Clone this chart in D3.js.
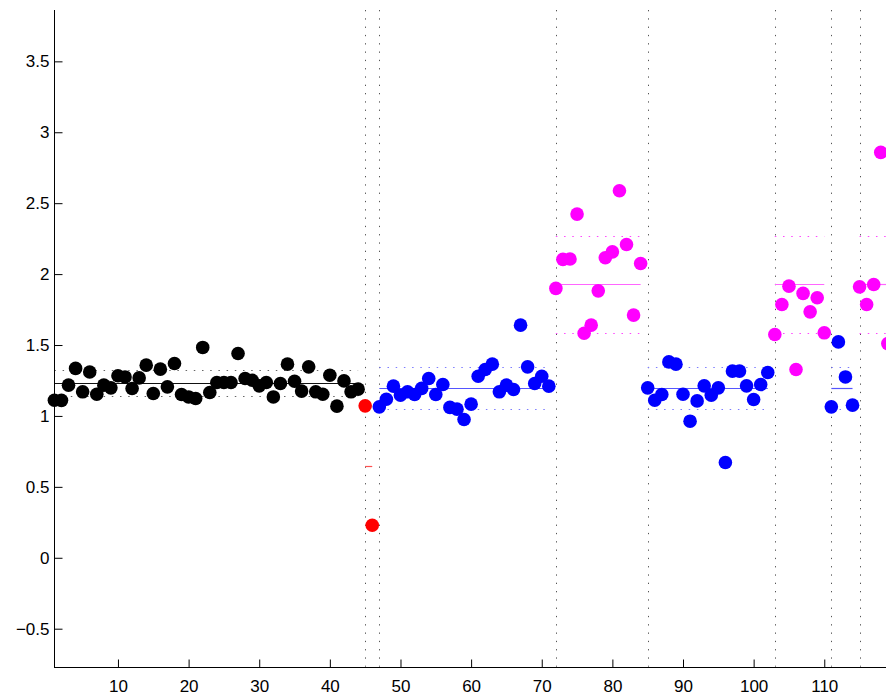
<!DOCTYPE html>
<html>
<head>
<meta charset="utf-8">
<script src="https://cdnjs.cloudflare.com/ajax/libs/d3/7.8.5/d3.min.js"></script>
<style>
  body { margin: 0; background: #fff; }
  svg { display: block; font-family: "Liberation Sans", Arial, sans-serif; }
</style>
</head>
<body>
<script>
// one array per run, read left to right
const blackVals = [1.111, 1.11, 1.217, 1.335, 1.17, 1.31, 1.153, 1.217, 1.198, 1.283,
  1.275, 1.193, 1.268, 1.358, 1.158, 1.33, 1.205, 1.37, 1.151, 1.134,
  1.123, 1.483, 1.165, 1.236, 1.236, 1.236, 1.44, 1.264, 1.252, 1.212,
  1.236, 1.134, 1.229, 1.365, 1.245, 1.175, 1.346, 1.17, 1.153, 1.287,
  1.069, 1.247, 1.17, 1.189]
const redVals = [1.071, 0.229]
const blueVals1 = [1.064, 1.118, 1.21, 1.146, 1.17, 1.151, 1.194, 1.264, 1.151, 1.222,
  1.06, 1.048, 0.975, 1.083, 1.28, 1.327, 1.365, 1.17, 1.217, 1.186,
  1.64, 1.346, 1.229, 1.28, 1.21]
const magentaVals1 = [1.899, 2.104, 2.106, 2.423, 1.583, 1.64, 1.882, 2.115, 2.157, 2.588,
  2.209, 1.711, 2.075]
const blueVals2 = [1.198, 1.111, 1.151, 1.381, 1.365, 1.153, 0.963, 1.106, 1.212, 1.146,
  1.198, 0.672, 1.316, 1.316, 1.212, 1.116, 1.222, 1.306]
const magentaVals2 = [1.574, 1.786, 1.915, 1.327, 1.864, 1.734, 1.833, 1.586]
const blueVals3 = [1.064, 1.522, 1.275, 1.076]
const magentaVals3 = [1.91, 1.786, 1.927, 2.858, 1.51]

const runStarts = [1, 45, 47, 72, 85, 103, 111, 115]
const runClasses = ['black', 'red', 'blue', 'magenta', 'blue', 'magenta', 'blue', 'magenta']
const boundaries = [45, 47, 72, 85, 103, 111, 115]
const xTicks = [10, 20, 30, 40, 50, 60, 70, 80, 90, 100, 110]
const yTicks = [-0.5, 0, 0.5, 1, 1.5, 2, 2.5, 3, 3.5]

const runs = [blackVals, redVals, blueVals1, magentaVals1, blueVals2, magentaVals2, blueVals3, magentaVals3]

const w = 886
const h = 700
const padLeft = 54.4
const padTop = 10
const padBottom = 666.7

const pointColor = { black: '#000', red: '#ff0000', blue: '#0000ff', magenta: '#ff00ff' }
const meanColor = { black: '#111', red: '#ff5050', blue: '#5555ff', magenta: '#ff66ff' }
const dotColor = { black: '#666', red: '#ff6060', blue: '#7c7cff', magenta: '#ff44ff' }

const xScale = d3.scaleLinear().domain([1, 120]).range([padLeft, padLeft + 119 * 7.063])
const yScale = d3.scaleLinear().domain([-0.768, 3.862]).range([padBottom, padTop])

// points as [x, value, class]
const points = []
runs.forEach((vals, r) => {
  vals.forEach((v, i) => points.push([runStarts[r] + i, v, runClasses[r]]))
})

// class statistics pooled over all runs of the same class
const stats = {}
for (const c of ['black', 'red', 'blue', 'magenta']) {
  const vals = points.filter(p => p[2] === c).map(p => p[1])
  stats[c] = { mean: d3.mean(vals), sd: d3.deviation(vals) }
}

const svg = d3.select('body')
  .append('svg')
  .attr('width', w)
  .attr('height', h)

// run boundaries
svg.selectAll('line.bound')
  .data(boundaries)
  .enter()
  .append('line')
  .attr('class', 'bound')
  .attr('x1', d => Math.round(xScale(d)) + 0.5)
  .attr('x2', d => Math.round(xScale(d)) + 0.5)
  .attr('y1', padTop)
  .attr('y2', padBottom)
  .attr('stroke', '#555')
  .attr('stroke-width', 1)
  .attr('stroke-dasharray', '1.3,7')

// mean and +-sd lines for each run
const segs = runs.map((vals, r) => ({
  x0: runStarts[r],
  x1: runStarts[r] + vals.length - 1,
  c: runClasses[r]
}))

segs.forEach(s => {
  const st = stats[s.c]
  if (s.c !== 'red') {
    [st.mean + st.sd, st.mean - st.sd].forEach(y => {
      svg.append('line')
        .attr('x1', xScale(s.x0))
        .attr('x2', xScale(s.x1))
        .attr('y1', Math.round(yScale(y)) + 0.5)
        .attr('y2', Math.round(yScale(y)) + 0.5)
        .attr('stroke', dotColor[s.c])
        .attr('stroke-width', 1)
        .attr('stroke-dasharray', '1.5,6.7')
    })
  }
  svg.append('line')
    .attr('x1', xScale(s.x0))
    .attr('x2', xScale(s.x1))
    .attr('y1', Math.round(yScale(st.mean)) + 0.5)
    .attr('y2', Math.round(yScale(st.mean)) + 0.5)
    .attr('stroke', meanColor[s.c])
    .attr('stroke-width', 1.2)
})

svg.selectAll('circle')
  .data(points)
  .enter()
  .append('circle')
  .attr('cx', d => xScale(d[0]))
  .attr('cy', d => yScale(d[1]))
  .attr('r', 6.8)
  .attr('fill', d => pointColor[d[2]])

// axes
const xAxis = d3.axisBottom(xScale)
  .tickValues(xTicks)
  .tickSizeInner(-8)
  .tickSizeOuter(0)
  .tickPadding(12)
const yAxis = d3.axisLeft(yScale)
  .tickValues(yTicks)
  .tickSizeInner(-8)
  .tickSizeOuter(0)
  .tickPadding(5)
  .tickFormat(d => d3.format('')(d).replace('-', '\u2212'))

const gx = svg.append('g')
  .attr('id', 'x-axis')
  .attr('transform', `translate(0, ${Math.round(padBottom) + 0.5})`)
  .call(xAxis)

const gy = svg.append('g')
  .attr('id', 'y-axis')
  .attr('transform', `translate(${Math.round(padLeft) + 0.5}, 0)`)
  .call(yAxis)

for (const g of [gx, gy]) {
  g.select('.domain').attr('stroke', '#000').attr('stroke-width', 1)
  g.selectAll('.tick line').attr('stroke', '#000')
  g.selectAll('.tick text')
    .attr('fill', '#000')
    .style('font-size', '17px')
    .style('font-family', '"Liberation Sans", Arial, sans-serif')
}
gx.select('.domain').attr('d', `M${Math.round(padLeft)},0H${w + 10}`)
gy.select('.domain').attr('d', `M0,${padTop}V${Math.round(padBottom) + 1}`)
</script>
</body>
</html>
